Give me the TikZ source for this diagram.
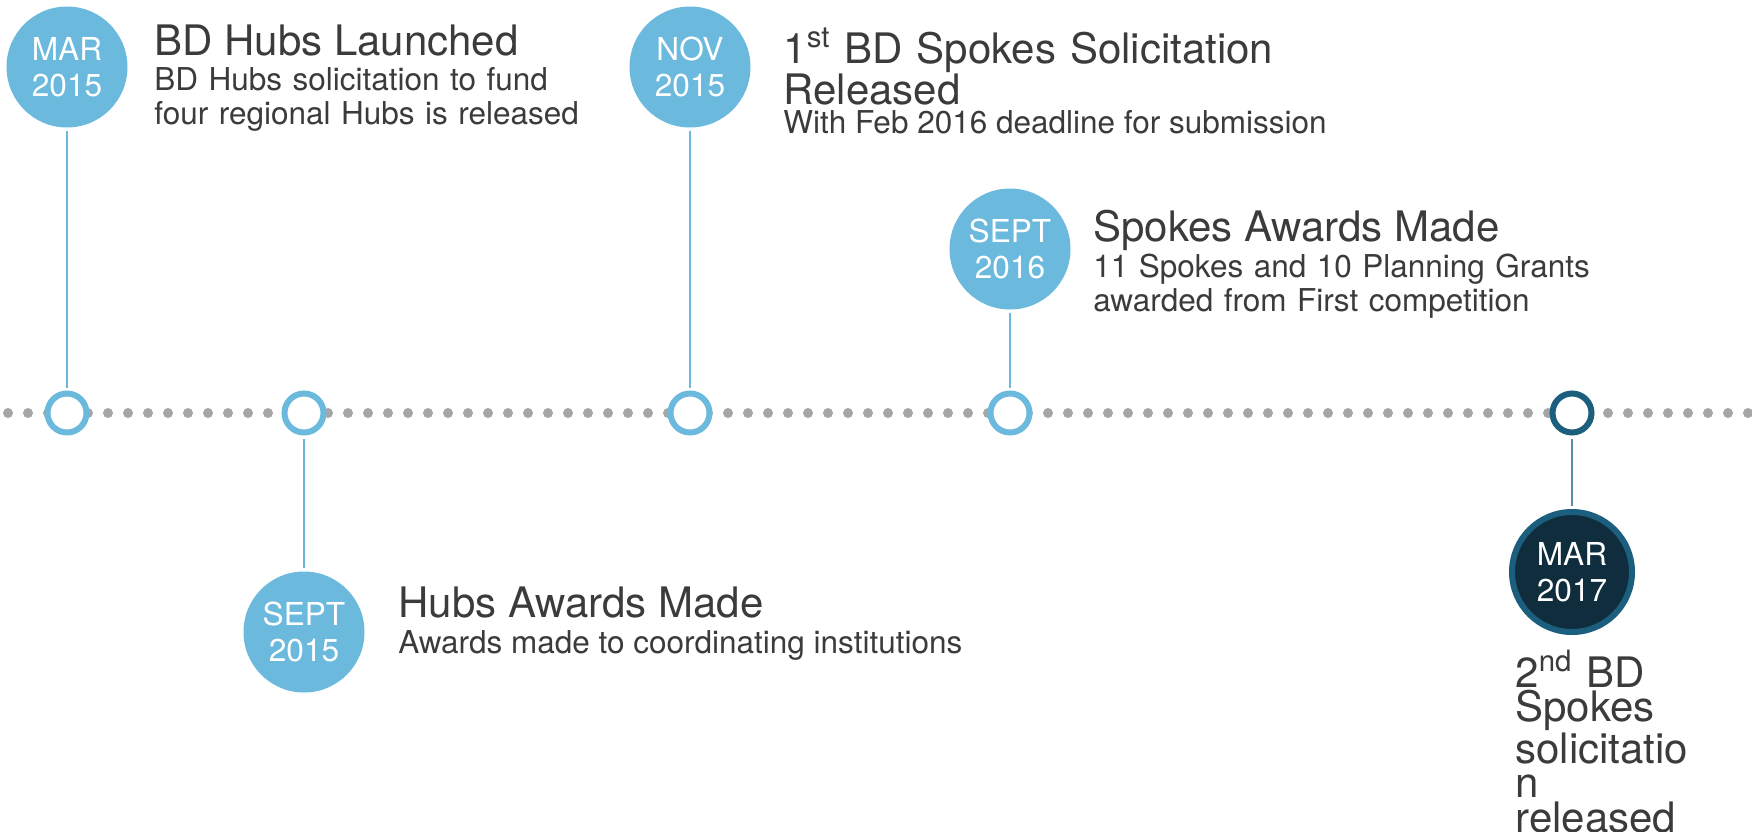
\documentclass[tikz,border=0pt]{standalone}
\usepackage{fontspec}
\setmainfont{TeX Gyre Heros}
\setlength{\lineskiplimit}{-100pt}
\definecolor{lblue}{HTML}{6CB9DE}
\definecolor{txt}{HTML}{3B3B3B}
\definecolor{dotgray}{HTML}{A6A6A6}
\definecolor{dring}{HTML}{1C5E7E}
\definecolor{dfill}{HTML}{0F2D3D}
\definecolor{dstem}{HTML}{5A8FA8}
\begin{document}
\begin{tikzpicture}[x=0.5pt,y=-0.5pt,
  datebox/.style={circle, fill=lblue, minimum size=60.5pt, inner sep=0pt, text=white, align=center, font=\fontsize{15.8pt}{18pt}\selectfont},
  darkdate/.style={datebox, fill=dfill, draw=dring, line width=3pt, minimum size=60pt},
  ring/.style={circle, draw=lblue, fill=white, line width=3pt, minimum size=19.5pt, inner sep=0pt},
  darkring/.style={ring, draw=dring},
  stem/.style={draw=lblue, line width=0.75pt, shorten <=1.5pt, shorten >=1.5pt},
  darkstem/.style={stem, draw=dstem},
  ttl/.style={anchor=base west, inner sep=0pt, text=txt, align=left, font=\fontsize{21pt}{17.25pt}\selectfont},
  sub/.style={anchor=base west, inner sep=0pt, text=txt, align=left, font=\fontsize{15.75pt}{17.25pt}\selectfont},
]
\useasboundingbox (0,0) rectangle (1752,831);
\fill[white] (0,0) rectangle (1752,831);
% dotted timeline
\foreach \x in {8,28,...,1748} \fill[dotgray] (\x,413) circle (5);
% rings on the timeline
\node[ring] (r1) at (67,413) {};
\node[ring] (r2) at (304,413) {};
\node[ring] (r3) at (690,413) {};
\node[ring] (r4) at (1010,413) {};
\node[darkring] (r5) at (1572,413) {};
% date circles
\node[datebox] (c1) at (67,67) {MAR\\2015};
\node[datebox] (c2) at (304,632) {SEPT\\2015};
\node[datebox] (c3) at (690,67) {NOV\\2015};
\node[datebox] (c4) at (1010,249) {SEPT\\2016};
\node[darkdate] (c5) at (1572,572) {MAR\\2017};
% stems
\draw[stem] (c1) -- (r1);
\draw[stem] (c2) -- (r2);
\draw[stem] (c3) -- (r3);
\draw[stem] (c4) -- (r4);
\draw[darkstem] (c5) -- (r5);
% texts
\node[ttl] (t1) at (154,55) {BD Hubs Launched};
\node[sub, text width=220pt] (s1) at (154,90) {BD Hubs solicitation to fund\\four regional Hubs is released};
\node[ttl] (t2) at (398,617) {Hubs Awards Made};
\node[sub] (s2) at (398,653) {Awards made to coordinating institutions};
\node[ttl, text width=250pt] (t3) at (783,63) {1\textsuperscript{st} BD Spokes Solicitation\\Released};
\node[sub] (s3) at (783,133) {With Feb 2016 deadline for submission};
\node[ttl] (t4) at (1093,241) {Spokes Awards Made};
\node[sub, text width=258pt] (s4) at (1093,277) {11 Spokes and 10 Planning Grants\\awarded from First competition};
\node[ttl, text width=90pt] (t5) at (1515,687) {2\textsuperscript{nd} BD\\Spokes\\solicitatio\\n\\released};
\end{tikzpicture}
\end{document}
